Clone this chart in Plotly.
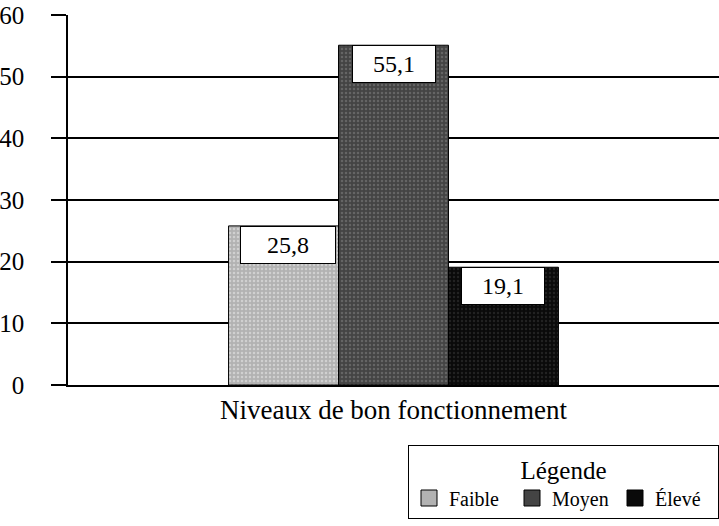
import plotly.graph_objects as go

categories = ["Faible", "Moyen", "Élevé"]
values = [25.8, 55.1, 19.1]
value_labels = ["25,8", "55,1", "19,1"]
group_label = "Niveaux de bon fonctionnement"
y_ticks = [0, 10, 20, 30, 40, 50, 60]

positions = [-1, 0, 1]
fills = ["#b2b2b2", "#444444", "#0a0a0a"]
dots = ["#eeeeee", "#858585", "#3a3a3a"]

FONT = "Liberation Serif, Times New Roman, serif"

W, H = 719, 526

fig = go.Figure()
for cat, val, pos, fc, dc in zip(categories, values, positions, fills, dots):
    fig.add_trace(go.Bar(
        x=[pos], y=[val], name=cat, width=1, showlegend=False,
        marker=dict(color=fc, line=dict(color="black", width=1),
                    pattern=dict(shape=".", fgcolor=dc, bgcolor=fc, size=4, solidity=0.3)),
    ))
for cat, fc in zip(categories, fills):
    fig.add_trace(go.Scatter(
        x=[None], y=[None], mode="markers", name=cat,
        marker=dict(symbol="square", size=21, color=fc, line=dict(color="black", width=1)),
    ))

box_w = [92, 80, 80]
box_dx = [4, 0, 0]
for pos, val, lab, w, dx in zip(positions, values, value_labels, box_w, box_dx):
    fig.add_annotation(x=pos, y=val, xref="x", yref="y", text=lab, showarrow=False,
                       yanchor="top", xanchor="center", xshift=dx,
                       font=dict(family=FONT, size=24, color="black"),
                       bgcolor="white", bordercolor="black", borderwidth=1,
                       width=w, height=34, borderpad=1)

fig.update_layout(
    width=W, height=H,
    margin=dict(l=68, r=0, t=15, b=H - 15 - 370, autoexpand=False),
    paper_bgcolor="white", plot_bgcolor="white",
    font=dict(family=FONT, size=24, color="black"),
    barmode="overlay",
    showlegend=True,
    legend=dict(
        orientation="h", xref="container", yref="container",
        x=1, xanchor="right", y=1 - 445 / H, yanchor="top",
        title=dict(text="Légende", side="top center", font=dict(family=FONT, size=25)),
        font=dict(family=FONT, size=20, color="black"),
        bordercolor="black", borderwidth=1, bgcolor="white",
        entrywidth=58, entrywidthmode="pixels", itemwidth=30,
    ),
)

fig.update_xaxes(range=[-2.96, 2.96], tickvals=[0], ticktext=[group_label],
                 ticks="", showgrid=False, zeroline=False, automargin=False,
                 showline=True, linecolor="black", linewidth=1.5,
                 tickfont=dict(family=FONT, size=27), fixedrange=True)
fig.update_yaxes(range=[0, 60], tickvals=y_ticks, ticks="outside", ticklen=15,
                 tickcolor="black", tickwidth=1.5, automargin=False,
                 showgrid=True, gridcolor="black", gridwidth=1.5, zeroline=False,
                 showline=True, linecolor="black", linewidth=1.5,
                 ticklabelstandoff=22,
                 tickfont=dict(family=FONT, size=25), fixedrange=True)

fig.write_html("out.html", config={"displayModeBar": False},
               post_script="document.body.style.margin='0';")
